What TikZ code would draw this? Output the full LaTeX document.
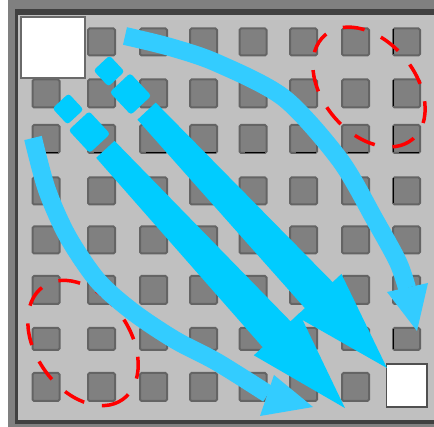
\documentclass[tikz,border=0pt]{standalone}
\usetikzlibrary{calc}
\definecolor{frameg}{HTML}{808080}
\definecolor{framed}{HTML}{404040}
\definecolor{panel}{HTML}{C0C0C0}
\definecolor{cellf}{HTML}{808080}
\definecolor{celle}{HTML}{646464}
\definecolor{wedge}{HTML}{6A6A6A}
\definecolor{cyanA}{HTML}{00CCFF}
\definecolor{cyanB}{HTML}{33CCFF}
\tikzset{
  cellbox/.style={draw=celle, line width=2, fill=cellf, rounded corners=1.5},
  ringdash/.style={draw=red, line width=3.5, dash pattern=on 22 off 18},
  curvearrow/.style={draw=cyanB, line width=18},
  straightarrow/.style={fill=cyanA},
}
\newcommand\straightshape[1]{%
  \fill[straightarrow, rounded corners=3] (-11,-11) rectangle (11,11);
  \fill[straightarrow, rounded corners=3] (16,-14) rectangle (47,14);
  \fill[straightarrow] (55,-12.5) -- (307,-19) -- (307,-31) -- (#1,0) -- (307,31) -- (307,19) -- (55,12.5) -- cycle;
}
\begin{document}
\begin{tikzpicture}[x=1pt,y=-1pt]
\useasboundingbox (0,0) rectangle (434,427);
\fill[white] (0,0) rectangle (434,427);
\fill[frameg] (8,0) rectangle (434,427);
\fill[framed] (15,9) rectangle (434,424);
\fill[panel] (18,15) rectangle (434,420);
% grid of cells
\foreach \cy/\h [count=\j] in {42/27,93.5/28,139/28,191/27,240/27,290/28,339/22,387/28}{
  \foreach \cx [count=\i] in {46,101.5,153.5,203.5,253,303.5,355.5,406.5}{
    \ifnum\i\j=11 \else\ifnum\i\j=88 \else
      \draw[cellbox] (\cx-13.5,\cy-\h/2) rectangle (\cx+13.5,\cy+\h/2);
    \fi\fi
  }
}
% black edge artefacts
\foreach \cx in {46,101.5,153.5,203.5,253,303.5,355.5,406.5}
  \draw[black, line width=1.5] (\cx-8,152.5) -- (\cx+12,152.5);
\foreach \cy/\h in {42/27,93.5/28,139/28,191/27,339/22}
  \draw[black, line width=1.5] (393.5,\cy-\h/2+1) -- (393.5,\cy+\h/2-1);
% white squares
\node[draw=wedge, line width=2, fill=white, inner sep=0, minimum width=64, minimum height=60.5] (start) at (52.5,47.75) {};
\node[draw=celle!80!black, line width=1.5, fill=white, inner sep=0, minimum width=40.5, minimum height=43] (goal) at (406.75,385.5) {};
% red rings
\draw[ringdash, rotate around={-50:(369,87)}] (369,87) ellipse [x radius=68, y radius=46];
\draw[ringdash, rotate around={-55:(83,343)}] (83,343) ellipse [x radius=69, y radius=47];
% curved arrows
\coordinate (c1s) at (125,36);
\coordinate (c1e) at (407,288);
\draw[curvearrow] plot[smooth] coordinates {(c1s) (170,47) (217,63) (284,98) (340,160) (375,220) (398,262) (c1e)};
\fill[cyanB] (387,292) -- (417,331) -- (428,283) -- cycle;
\coordinate (c2s) at (33,138);
\coordinate (c2e) at (268,394);
\draw[curvearrow] plot[smooth] coordinates {(c2s) (47,190) (68,237) (98,281) (133,312) (175,340) (217,362) (c2e)};
\fill[cyanB] (274,375) -- (313,407) -- (260,416) -- cycle;
% straight arrows
\begin{scope}[shift={(109,71)}, rotate=-46.9]
  \straightshape{406.8}
\end{scope}
\begin{scope}[shift={(68,109)}, rotate=-47.2]
  \straightshape{407.6}
\end{scope}
\end{tikzpicture}
\end{document}
